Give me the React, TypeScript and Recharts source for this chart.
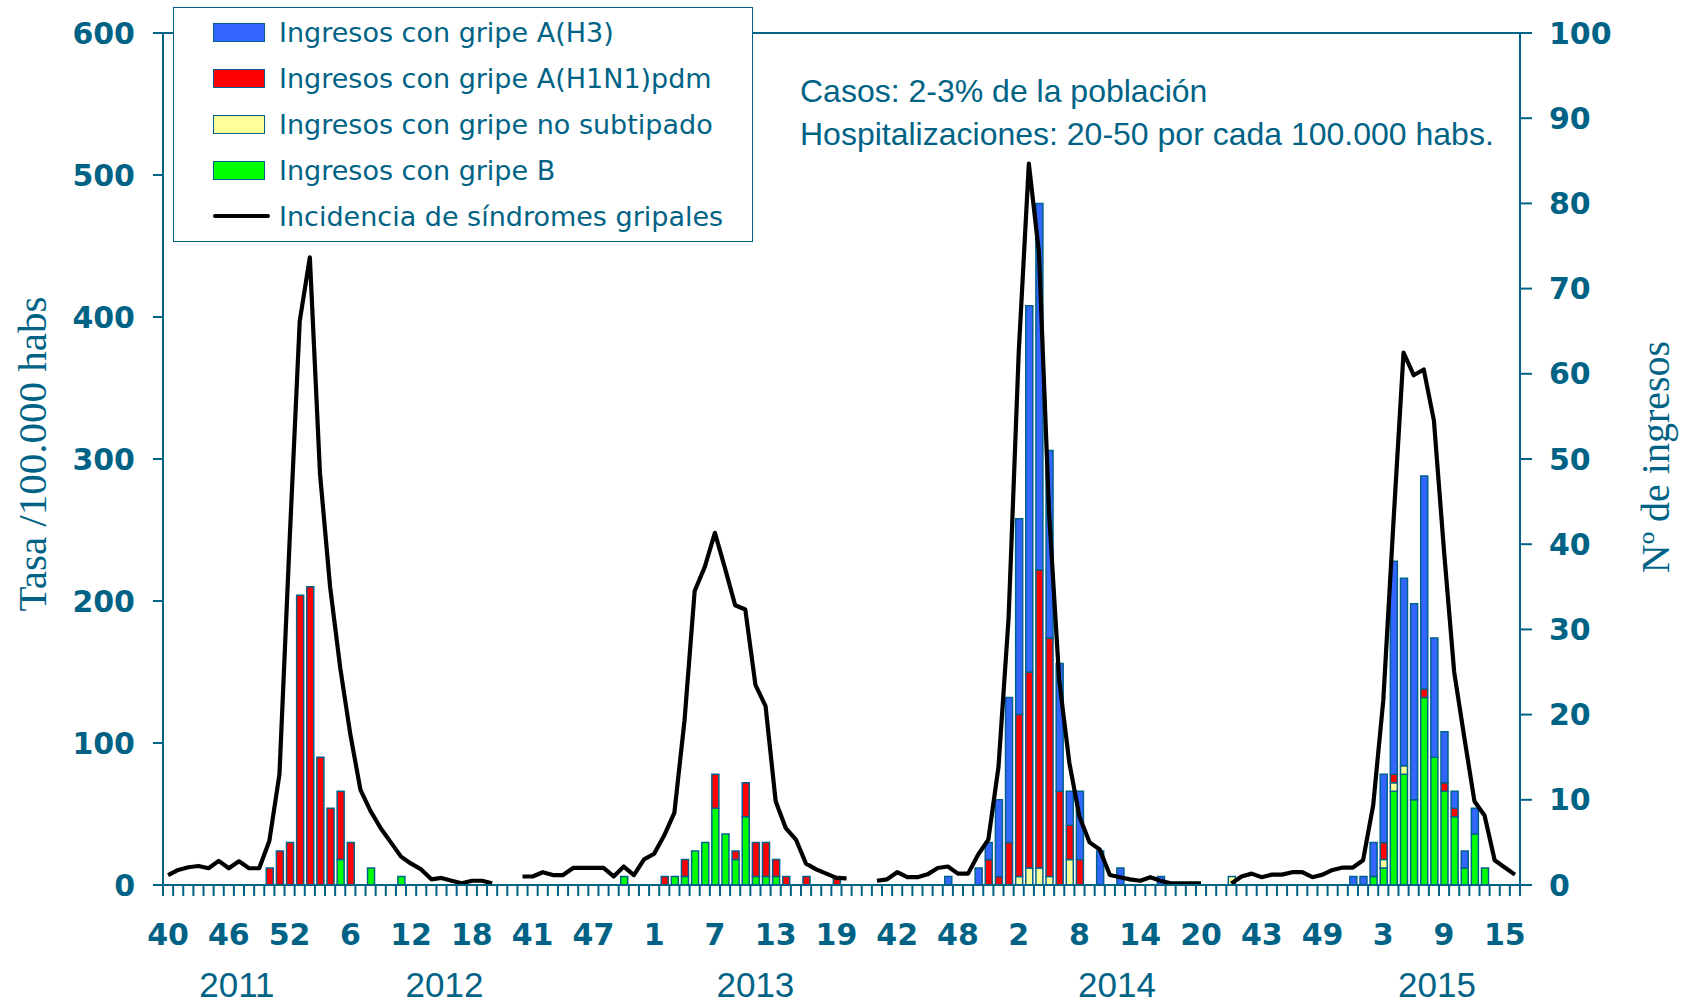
import { Bar, ComposedChart, Line, ReferenceLine, XAxis, YAxis } from "recharts";

// week numbers of one flu season (week 40 to week 20) and of the last, shorter one
const seasonWeeks = [40, 41, 42, 43, 44, 45, 46, 47, 48, 49, 50, 51, 52, 1, 2, 3, 4, 5, 6, 7, 8, 9, 10, 11, 12, 13, 14, 15, 16, 17, 18, 19, 20];
const lastSeasonWeeks = [40, 41, 42, 43, 44, 45, 46, 47, 48, 49, 50, 51, 52, 1, 2, 3, 4, 5, 6, 7, 8, 9, 10, 11, 12, 13, 14, 15, 16];

// incidencia de síndromes gripales (tasa /100.000 habs)
const incidencia2011 = [7, 10.6, 12.5, 13.4, 11.8, 17, 11.8, 16.7, 11.8, 11.8, 31, 78, 242, 397, 442, 290, 210, 153, 106, 67, 52, 40, 30, 20, 15, 11, 4, 5, 3, 1.2, 3, 3, 1.2];
const incidencia2012 = [6, 6, 9, 7, 7, 12, 12, 12, 12, 6, 13, 7, 18, 22, 35, 51, 116, 207, 224, 248, 223, 197, 194, 141, 126, 59, 40, 32, 15, 11, 8, 5, 4.7];
const incidencia2013 = [3, 4, 9, 5.5, 5.5, 7.5, 12, 13, 8, 8, 21.5, 32, 83, 188, 375, 508, 445, 262, 144, 86, 48, 30, 25, 7, 5.5, 4, 3, 5.5, 3, 1.2, 1.2, 1.2, 1.2];
const incidencia2014 = [1, 6, 8, 5.5, 7.3, 7.3, 9, 9, 5.5, 7.3, 10.6, 12.3, 12.3, 17.4, 56, 130, 255, 375, 359, 363, 327, 235, 150, 104, 59, 49, 17.4, 12.3, 7.3];

// ingresos con gripe A(H3)
const h3_2011 = [0, 0, 0, 0, 0, 0, 0, 0, 0, 0, 0, 0, 0, 0, 0, 0, 0, 0, 0, 0, 0, 0, 0, 0, 0, 0, 0, 0, 0, 0, 0, 0, 0];
const h3_2012 = [0, 0, 0, 0, 0, 0, 0, 0, 0, 0, 0, 0, 0, 0, 0, 0, 0, 0, 0, 0, 0, 0, 0, 0, 0, 0, 0, 0, 0, 0, 0, 0, 0];
const h3_2013 = [0, 0, 0, 0, 0, 0, 0, 1, 0, 0, 2, 2, 9, 17, 23, 43, 43, 22, 15, 4, 8, 0, 4, 0, 2, 0, 0, 0, 1, 0, 0, 0, 0];
const h3_2014 = [0, 0, 0, 0, 0, 0, 0, 0, 0, 0, 0, 0, 1, 1, 4, 8, 25, 22, 23, 25, 14, 6, 2, 2, 3, 0, 0, 0, 0];

// ingresos con gripe A(H1N1)pdm
const h1n1_2011 = [0, 0, 0, 0, 0, 0, 0, 0, 0, 0, 2, 4, 5, 34, 35, 15, 9, 8, 5, 0, 0, 0, 0, 0, 0, 0, 0, 0, 0, 0, 0, 0, 0];
const h1n1_2012 = [0, 0, 0, 0, 0, 0, 0, 0, 0, 0, 0, 0, 0, 0, 1, 0, 2, 0, 0, 4, 0, 1, 4, 4, 4, 2, 1, 0, 1, 0, 0, 1, 0];
const h1n1_2013 = [0, 0, 0, 0, 0, 0, 0, 0, 0, 0, 0, 3, 1, 5, 19, 23, 35, 28, 11, 4, 3, 0, 0, 0, 0, 0, 0, 0, 0, 0, 0, 0, 0];
const h1n1_2014 = [0, 0, 0, 0, 0, 0, 0, 0, 0, 0, 0, 0, 0, 0, 0, 2, 1, 0, 0, 1, 0, 1, 1, 0, 0, 0, 0, 0, 0];

// ingresos con gripe no subtipado
const noSub2011 = [0, 0, 0, 0, 0, 0, 0, 0, 0, 0, 0, 0, 0, 0, 0, 0, 0, 0, 0, 0, 0, 0, 0, 0, 0, 0, 0, 0, 0, 0, 0, 0, 0];
const noSub2012 = [0, 0, 0, 0, 0, 0, 0, 0, 0, 0, 0, 0, 0, 0, 0, 0, 0, 0, 0, 0, 0, 0, 0, 0, 0, 0, 0, 0, 0, 0, 0, 0, 0];
const noSub2013 = [0, 0, 0, 0, 0, 0, 0, 0, 0, 0, 0, 0, 0, 0, 1, 2, 2, 1, 0, 3, 0, 0, 0, 0, 0, 0, 0, 0, 0, 0, 0, 0, 0];
const noSub2014 = [1, 0, 0, 0, 0, 0, 0, 0, 0, 0, 0, 0, 0, 0, 0, 1, 1, 1, 0, 0, 0, 0, 0, 0, 0, 0, 0, 0, 0];

// ingresos con gripe B
const b2011 = [0, 0, 0, 0, 0, 0, 0, 0, 0, 0, 0, 0, 0, 0, 0, 0, 0, 3, 0, 0, 2, 0, 0, 1, 0, 0, 0, 0, 0, 0, 0, 0, 0];
const b2012 = [0, 0, 0, 0, 0, 0, 0, 0, 0, 0, 1, 0, 0, 0, 0, 1, 1, 4, 5, 9, 6, 3, 8, 1, 1, 1, 0, 0, 0, 0, 0, 0, 0];
const b2013 = [0, 0, 0, 0, 0, 0, 0, 0, 0, 0, 0, 0, 0, 0, 0, 0, 0, 0, 0, 0, 0, 0, 0, 0, 0, 0, 0, 0, 0, 0, 0, 0, 0];
const b2014 = [0, 0, 0, 0, 0, 0, 0, 0, 0, 0, 0, 0, 0, 0, 1, 2, 11, 13, 10, 22, 15, 11, 8, 2, 6, 2, 0, 0, 0];

const leftTicks = [0, 100, 200, 300, 400, 500, 600];
const rightTicks = [0, 10, 20, 30, 40, 50, 60, 70, 80, 90, 100];
const yearLabels = ["2011", "2012", "2013", "2014", "2015"];
const yearLabelPos = [6.8, 27.3, 58, 93.7, 125.3]; // in category units

const seasons = [
  { weeks: seasonWeeks, incidencia: incidencia2011, h3: h3_2011, h1n1: h1n1_2011, noSub: noSub2011, b: b2011 },
  { weeks: seasonWeeks, incidencia: incidencia2012, h3: h3_2012, h1n1: h1n1_2012, noSub: noSub2012, b: b2012 },
  { weeks: seasonWeeks, incidencia: incidencia2013, h3: h3_2013, h1n1: h1n1_2013, noSub: noSub2013, b: b2013 },
  { weeks: lastSeasonWeeks, incidencia: incidencia2014, h3: h3_2014, h1n1: h1n1_2014, noSub: noSub2014, b: b2014 },
];

type Row = {
  idx: number;
  week: number | null;
  incidencia: number | null;
  h3: number | null;
  h1n1: number | null;
  noSub: number | null;
  b: number | null;
};

const GAP = 2; // empty categories between seasons
const rows: Row[] = [];
seasons.forEach((s, k) => {
  if (k > 0) {
    for (let g = 0; g < GAP; g++) {
      rows.push({ idx: rows.length, week: null, incidencia: null, h3: null, h1n1: null, noSub: null, b: null });
    }
  }
  s.weeks.forEach((w, j) => {
    rows.push({
      idx: rows.length,
      week: w,
      incidencia: s.incidencia[j],
      h3: s.h3[j],
      h1n1: s.h1n1[j],
      noSub: s.noSub[j],
      b: s.b[j],
    });
  });
});

const TEAL = "#006385";
const EDGE = "#00628a";
const W = 1684;
const H = 1005;
const PLOT_LEFT = 163;
const PLOT_RIGHT = 1520;
const PLOT_TOP = 33;
const PLOT_BOTTOM = 885;
const BAND = (PLOT_RIGHT - PLOT_LEFT) / rows.length;
const X_TICK = 11;

const legendItems = [
  { label: "Ingresos con gripe A(H3)", color: "#3366ff", line: false },
  { label: "Ingresos con gripe A(H1N1)pdm", color: "#ff0000", line: false },
  { label: "Ingresos con gripe no subtipado", color: "#ffff99", line: false },
  { label: "Ingresos con gripe B", color: "#00ff00", line: false },
  { label: "Incidencia de síndromes gripales", color: "#000000", line: true },
];

function WeekTick(props: any) {
  const { x, y, payload } = props;
  const idx = payload.value as number;
  const row = rows[idx];
  const axisY = y - X_TICK;
  const edge = x - BAND / 2;
  return (
    <g>
      <line x1={edge} x2={edge} y1={axisY} y2={axisY + X_TICK} stroke={TEAL} strokeWidth={2} />
      {idx === rows.length - 1 && (
        <line x1={x + BAND / 2} x2={x + BAND / 2} y1={axisY} y2={axisY + X_TICK} stroke={TEAL} strokeWidth={2} />
      )}
      {idx % 6 === 0 && row && row.week != null && (
        <text
          x={x}
          y={axisY + 49}
          textAnchor="middle"
          dominantBaseline="central"
          fill={TEAL}
          fontSize={30}
          fontWeight="bold"
          fontFamily="DejaVu Sans"
        >
          {row.week}
        </text>
      )}
      {yearLabels.map((yl, k) =>
        Math.floor(yearLabelPos[k]) === idx ? (
          <text
            key={yl}
            x={x + (yearLabelPos[k] - idx) * BAND}
            y={axisY + 99}
            textAnchor="middle"
            dominantBaseline="central"
            fill={TEAL}
            fontSize={35}
            fontFamily="Liberation Sans"
          >
            {yl}
          </text>
        ) : null
      )}
    </g>
  );
}

const yTick = { fill: TEAL, fontSize: 30, fontWeight: "bold", fontFamily: "DejaVu Sans" };

export default function App() {
  return (
    <div style={{ position: "absolute", left: 0, top: 0, width: W, height: H, background: "#fff" }}>
      <ComposedChart
        width={W}
        height={H}
        data={rows}
        margin={{ top: PLOT_TOP, right: 0, bottom: 0, left: 0 }}
        barCategoryGap={0}
      >
        <XAxis
          dataKey="idx"
          type="category"
          interval={0}
          height={H - PLOT_BOTTOM}
          tickSize={X_TICK}
          tickMargin={0}
          tickLine={false}
          axisLine={{ stroke: TEAL, strokeWidth: 2 }}
          tick={(p: any) => <WeekTick {...p} />}
        />
        <YAxis
          yAxisId="left"
          orientation="left"
          width={PLOT_LEFT}
          domain={[0, 600]}
          ticks={leftTicks}
          interval={0}
          tickSize={10}
          tickMargin={18}
          tick={yTick}
          tickLine={{ stroke: TEAL, strokeWidth: 2 }}
          axisLine={{ stroke: TEAL, strokeWidth: 2 }}
        />
        <YAxis
          yAxisId="right"
          orientation="right"
          width={W - PLOT_RIGHT}
          domain={[0, 100]}
          ticks={rightTicks}
          interval={0}
          tickSize={12}
          tickMargin={17}
          tick={yTick}
          tickLine={{ stroke: TEAL, strokeWidth: 2 }}
          axisLine={{ stroke: TEAL, strokeWidth: 2 }}
        />
        <ReferenceLine yAxisId="left" y={600} stroke={TEAL} strokeWidth={2} />
        <Bar yAxisId="right" stackId="ingresos" dataKey="b" name="Ingresos con gripe B" fill="#00ff00" stroke={EDGE} strokeWidth={1.5} barSize={7} isAnimationActive={false} />
        <Bar yAxisId="right" stackId="ingresos" dataKey="noSub" name="Ingresos con gripe no subtipado" fill="#ffff99" stroke={EDGE} strokeWidth={1.5} barSize={7} isAnimationActive={false} />
        <Bar yAxisId="right" stackId="ingresos" dataKey="h1n1" name="Ingresos con gripe A(H1N1)pdm" fill="#ff0000" stroke={EDGE} strokeWidth={1.5} barSize={7} isAnimationActive={false} />
        <Bar yAxisId="right" stackId="ingresos" dataKey="h3" name="Ingresos con gripe A(H3)" fill="#3366ff" stroke={EDGE} strokeWidth={1.5} barSize={7} isAnimationActive={false} />
        <Line
          yAxisId="left"
          dataKey="incidencia"
          name="Incidencia de síndromes gripales"
          type="linear"
          stroke="#000"
          strokeWidth={4.2}
          strokeLinejoin="round"
          dot={false}
          activeDot={false}
          connectNulls={false}
          isAnimationActive={false}
        />
      </ComposedChart>

      {/* legend */}
      <div
        style={{
          position: "absolute",
          left: 173,
          top: 7,
          width: 580,
          height: 235,
          boxSizing: "border-box",
          border: `1.5px solid ${TEAL}`,
          background: "#fff",
          paddingTop: 1,
        }}
      >
        {legendItems.map((item) => (
          <div key={item.label} style={{ display: "flex", alignItems: "center", height: 46 }}>
            {item.line ? (
              <div style={{ marginLeft: 39, width: 57, height: 4, borderRadius: 2, background: item.color }} />
            ) : (
              <div
                style={{
                  marginLeft: 39,
                  width: 52,
                  height: 19,
                  boxSizing: "border-box",
                  background: item.color,
                  border: `1.5px solid ${EDGE}`,
                }}
              />
            )}
            <span
              style={{
                marginLeft: item.line ? 9 : 14,
                fontFamily: "DejaVu Sans",
                fontSize: 27,
                color: TEAL,
                whiteSpace: "nowrap",
                lineHeight: 1,
              }}
            >
              {item.label}
            </span>
          </div>
        ))}
      </div>

      {/* note */}
      <div
        style={{
          position: "absolute",
          left: 800,
          top: 70,
          fontFamily: "Liberation Sans",
          fontSize: 32,
          lineHeight: "43px",
          color: TEAL,
          whiteSpace: "nowrap",
        }}
      >
        <div>Casos: 2-3% de la población</div>
        <div>Hospitalizaciones: 20-50 por cada 100.000 habs.</div>
      </div>

      {/* axis titles */}
      <div
        style={{
          position: "absolute",
          left: 32,
          top: 454,
          transform: "translate(-50%, -50%) rotate(-90deg)",
          fontFamily: "Liberation Serif",
          fontSize: 41,
          lineHeight: 1,
          color: TEAL,
          whiteSpace: "nowrap",
        }}
      >
        Tasa /100.000 habs
      </div>
      <div
        style={{
          position: "absolute",
          left: 1656,
          top: 457,
          transform: "translate(-50%, -50%) rotate(-90deg)",
          fontFamily: "Liberation Serif",
          fontSize: 40,
          lineHeight: 1,
          color: TEAL,
          whiteSpace: "nowrap",
        }}
      >
        Nº de ingresos
      </div>
    </div>
  );
}
